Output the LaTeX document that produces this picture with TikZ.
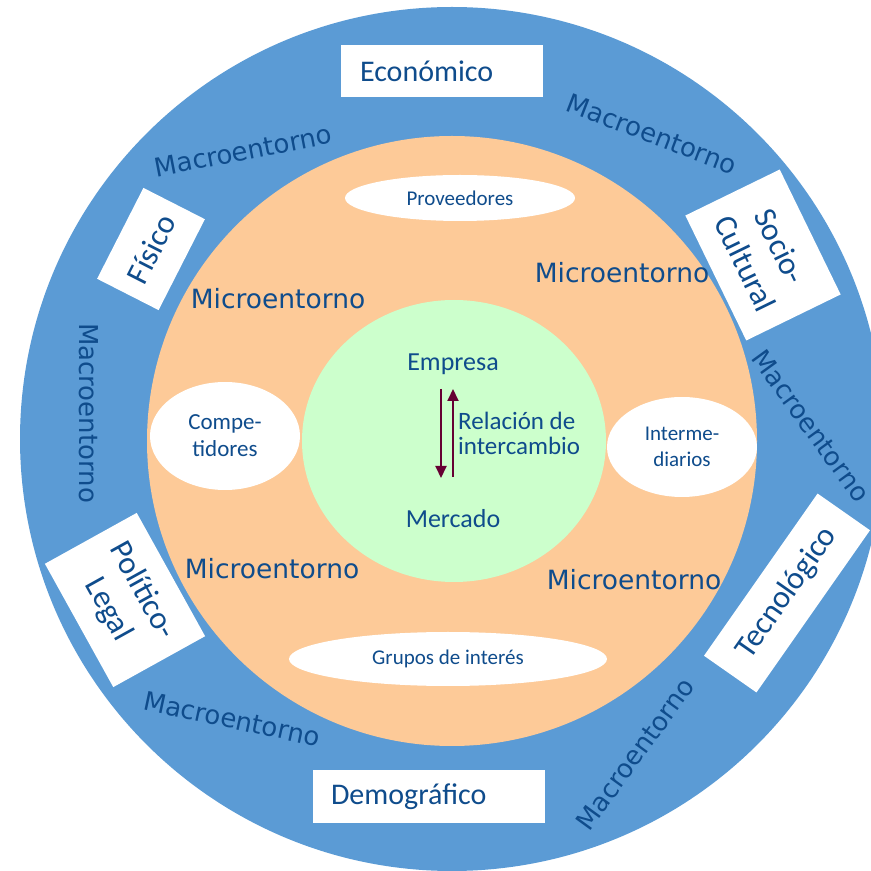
\documentclass[tikz,border=0pt]{standalone}
\usepackage{fontspec}
\setmainfont{Carlito}
\newfontfamily\labelfont{DejaVu Sans}
\usetikzlibrary{shapes.geometric,arrows.meta}
\definecolor{ringblue}{HTML}{5B9BD5}
\definecolor{microfill}{HTML}{FDCA98}
\definecolor{corefill}{HTML}{CCFFCC}
\definecolor{txtblue}{HTML}{0F4C8C}
\definecolor{arrowred}{HTML}{660033}
\tikzset{
  big/.style={font=\fontsize{30}{38}\selectfont},
  ringtxt/.style={font=\labelfont\fontsize{26}{30}\selectfont, text=txtblue, inner sep=0pt},
  microtxt/.style={font=\labelfont\fontsize{26.5}{30}\selectfont, text=txtblue, inner sep=0pt},
  factorbox/.style={big, text=txtblue, fill=white, draw=none, align=center, inner sep=0pt},
  tiltbox/.style={factorbox, font=\fontsize{32}{39}\selectfont},
  actorell/.style={ellipse, fill=white, draw=none, text=txtblue, align=center, inner sep=0pt},
  coretxt/.style={font=\fontsize{26}{30}\selectfont, text=txtblue, inner sep=0pt},
  flow/.style={draw=arrowred, line width=2pt, -{Triangle[width=11pt,length=12pt]}}
}
\begin{document}
\begin{tikzpicture}[x=1pt,y=1pt]
\clip (0,0) rectangle (871,871);
% three nested environments
\fill[ringblue] (452,432) circle[radius=432pt];
\fill[microfill] (452,430) circle[radius=305pt];
\fill[corefill] (454,430) ellipse[x radius=152pt, y radius=141pt];

% macro-environment factors
\node[factorbox, minimum width=202pt, minimum height=52pt, text width=164pt, align=left] (eco) at (442,800) {Económico};
\node[factorbox, minimum width=232pt, minimum height=53pt, text width=196pt, align=left] (demo) at (429,74) {Demográfico};
\node[tiltbox, minimum width=102pt, minimum height=69pt, rotate=63] (fis) at (151,622) {Físico};
\node[tiltbox, minimum width=139pt, minimum height=105pt, rotate=-64] (soc) at (763,616) {Socio-\\Cultural};
\node[tiltbox, minimum width=198pt, minimum height=64pt, rotate=55] (tec) at (787,278) {Tecnológico};
\node[tiltbox, minimum width=141pt, minimum height=105pt, rotate=-61] (pol) at (125,271) {Político-\\Legal};

% ring labels
\node[ringtxt, rotate=11] (m1) at (243,720) {Macroentorno};
\node[ringtxt, rotate=-21] (m2) at (652,737) {Macroentorno};
\node[ringtxt, rotate=-90] (m3) at (89,458) {Macroentorno};
\node[ringtxt, rotate=-54] (m4) at (811,445) {Macroentorno};
\node[ringtxt, rotate=-12] (m5) at (232,152) {Macroentorno};
\node[ringtxt, rotate=54] (m6) at (635,117) {Macroentorno};

% micro-environment actors
\node[actorell, minimum width=230pt, minimum height=46pt, font=\fontsize{21}{25}\selectfont] (prov) at (460,673) {Proveedores};
\node[actorell, minimum width=318pt, minimum height=54pt, font=\fontsize{21}{25}\selectfont] (grup) at (448,212) {Grupos de interés};
\node[actorell, minimum width=150pt, minimum height=108pt, font=\fontsize{23}{27}\selectfont] (comp) at (225,435) {Compe-\\tidores};
\node[actorell, minimum width=150pt, minimum height=100pt, font=\fontsize{21}{26}\selectfont] (inter) at (682,424) {Interme-\\diarios};

\node[microtxt] (mi1) at (278,572) {Microentorno};
\node[microtxt] (mi2) at (622,598) {Microentorno};
\node[microtxt] (mi3) at (272,302) {Microentorno};
\node[microtxt] (mi4) at (634,291) {Microentorno};

% core: company and market
\node[coretxt] (emp) at (453,507) {Empresa};
\node[coretxt] (mer) at (453,352) {Mercado};
\node[coretxt, font=\fontsize{25}{25}\selectfont, align=left, anchor=west] (rel) at (458,438) {Relación de\\intercambio};

\coordinate (dTop) at (441,482);
\coordinate (dBot) at (441,393);
\coordinate (uBot) at (453,394);
\coordinate (uTop) at (453,482);
\draw[flow] (dTop) -- (dBot);
\draw[flow] (uBot) -- (uTop);
\end{tikzpicture}
\end{document}
